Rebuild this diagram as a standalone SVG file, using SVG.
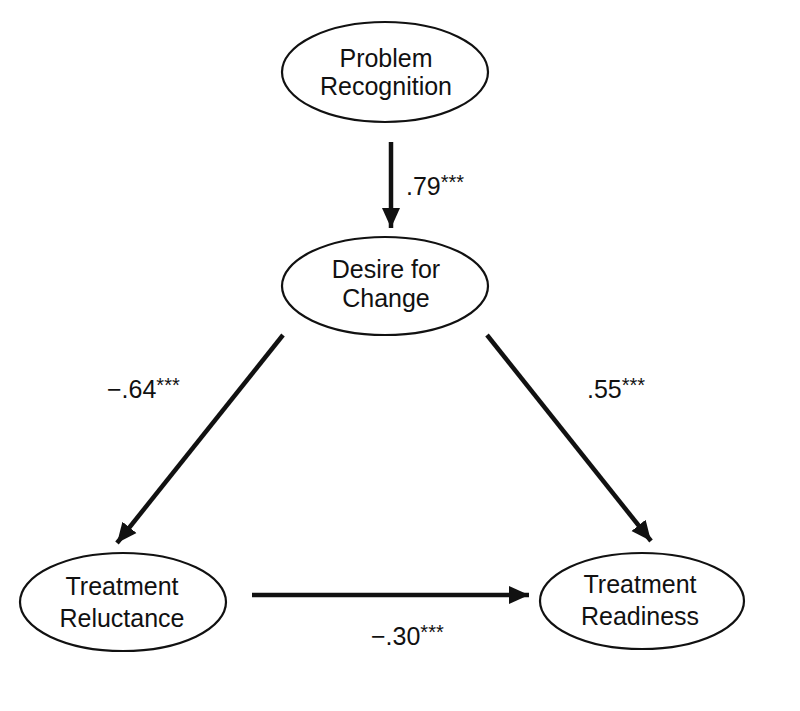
<svg xmlns="http://www.w3.org/2000/svg" width="800" height="711" viewBox="0 0 800 711">
<defs>
<style>
.node ellipse{fill:#fff;stroke:#111;stroke-width:2.2}
.node text{font-family:"Liberation Sans",Arial,sans-serif;font-size:25px;fill:#111;text-anchor:middle}
.edge{stroke:#111;stroke-width:4.5;fill:none;marker-end:url(#ah)}
.lbl{font-family:"Liberation Sans",Arial,sans-serif;font-size:25px;fill:#111}
.sup{font-size:20px}
</style>
<marker id="ah" markerUnits="userSpaceOnUse" markerWidth="22" markerHeight="20" refX="20" refY="9" orient="auto" viewBox="0 0 22 18">
<path d="M0,0 L20,9 L0,18 Z" fill="#111"/>
</marker>
</defs>
<rect width="800" height="711" fill="#fff"/>
<g id="connectors">
<line class="edge" x1="391" y1="142" x2="391" y2="228"/>
<line class="edge" x1="283" y1="335" x2="117" y2="543"/>
<line class="edge" x1="487" y1="335" x2="651" y2="541"/>
<line class="edge" x1="252" y1="595" x2="529" y2="595"/>
</g>
<g id="labels">
<text class="lbl" x="406" y="195">.79<tspan class="sup" dy="-6">***</tspan></text>
<text class="lbl" x="107" y="398">−.64<tspan class="sup" dy="-6">***</tspan></text>
<text class="lbl" x="587" y="398">.55<tspan class="sup" dy="-6">***</tspan></text>
<text class="lbl" x="371" y="645">−.30<tspan class="sup" dy="-6">***</tspan></text>
</g>
<g id="problem-recognition" class="node">
<ellipse cx="385" cy="72" rx="103" ry="50"/>
<text x="386" y="67">Problem</text>
<text x="386" y="95">Recognition</text>
</g>
<g id="desire-for-change" class="node">
<ellipse cx="385" cy="286" rx="103" ry="49"/>
<text x="386" y="278">Desire for</text>
<text x="386" y="307">Change</text>
</g>
<g id="treatment-reluctance" class="node">
<ellipse cx="123" cy="602" rx="103" ry="49"/>
<text x="122" y="595">Treatment</text>
<text x="122" y="627">Reluctance</text>
</g>
<g id="treatment-readiness" class="node">
<ellipse cx="642" cy="601" rx="102" ry="48"/>
<text x="640" y="593">Treatment</text>
<text x="640" y="625">Readiness</text>
</g>
</svg>
